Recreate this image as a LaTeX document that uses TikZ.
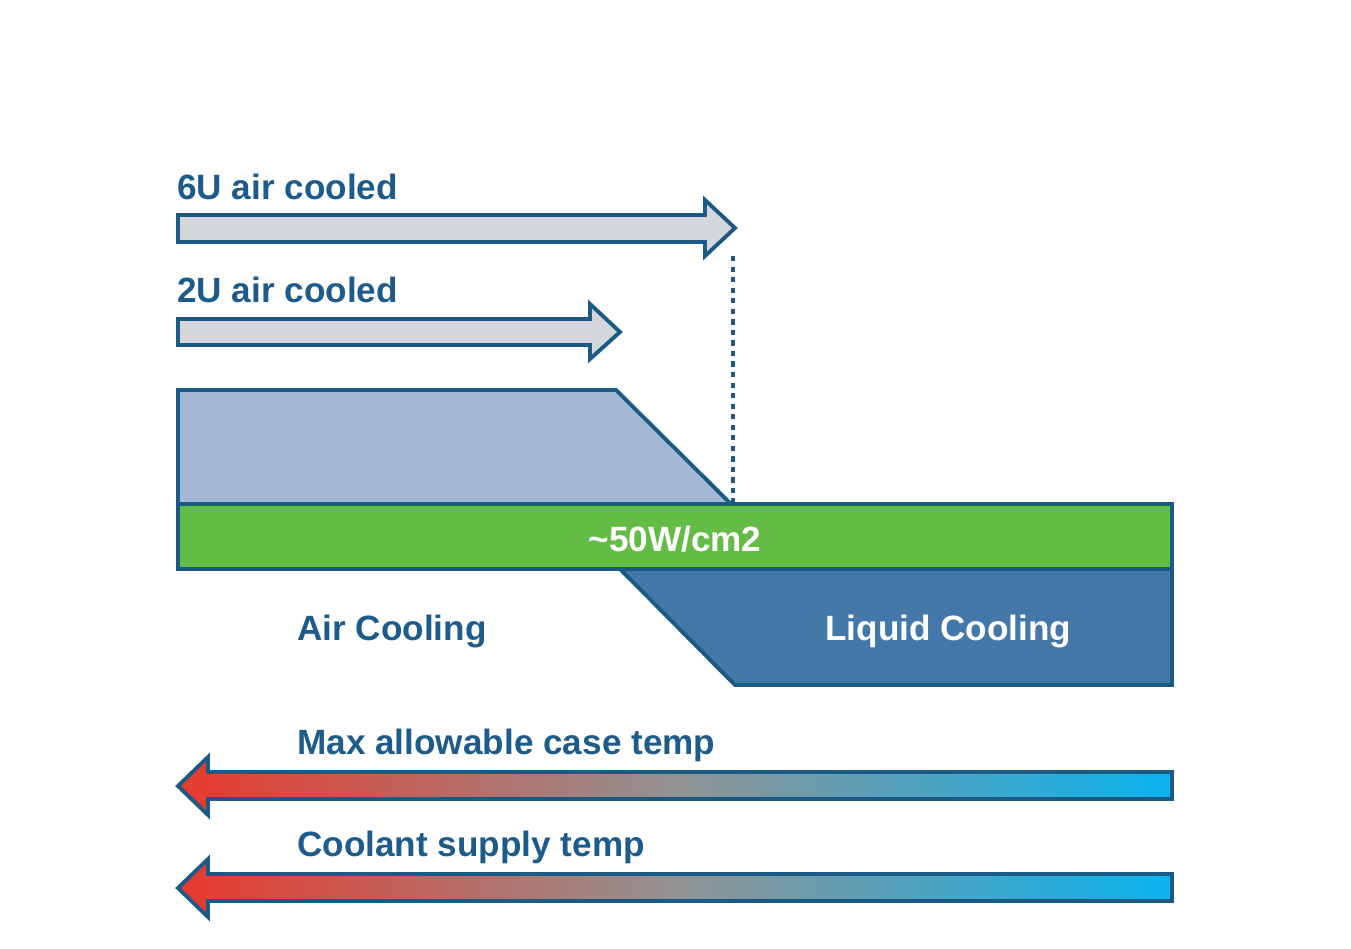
\documentclass[tikz,border=0pt]{standalone}
\usepackage{fontspec}
\setmainfont{Liberation Sans}
\begin{document}
\begin{tikzpicture}[x=0.02cm,y=-0.02cm,
    outl/.style={line width=2.2pt, draw=edgeblue, line join=miter},
    lbl/.style={anchor=west, text=txtblue, font=\fontsize{20}{24}\selectfont\bfseries, inner sep=0pt}]
    \definecolor{edgeblue}{HTML}{1B5A85}
    \definecolor{txtblue}{HTML}{1D5B8A}
    \definecolor{airfill}{HTML}{A3B8D4}
    \definecolor{greenbar}{HTML}{64BC46}
    \definecolor{liqfill}{HTML}{4378A8}
    \definecolor{hot}{HTML}{E8392D}
    \definecolor{cold}{HTML}{0AB4EE}
    \definecolor{arrowgray}{HTML}{D3D6DA}
    \useasboundingbox (0,0) rectangle (1351,949);
    % air cooled arrows
    \draw[outl, fill=arrowgray] (178,215) -- (705,215) -- (705,200) -- (735,228) -- (705,256) -- (705,242) -- (178,242) -- cycle;
    \draw[outl, fill=arrowgray] (178,319) -- (590,319) -- (590,304) -- (620,332) -- (590,359) -- (590,345) -- (178,345) -- cycle;
    \node[lbl] (six) at (177,187) {6U air cooled};
    \node[lbl] (two) at (177,290) {2U air cooled};
    \coordinate (tip6) at (733,256);
    \coordinate (edge) at (733,503);
    \draw[edgeblue, line width=2pt, dashed] (tip6) -- (edge);
    % cooling regions
    \draw[outl, fill=airfill] (178,503) -- (178,390) -- (616,390) -- (730,503);
    \draw[outl, fill=liqfill] (620,569) -- (1172,569) -- (1172,685) -- (735,685) -- cycle;
    \draw[outl, fill=greenbar] (178,504) rectangle (1172,569);
    \node[lbl, anchor=center, text=white] (flux) at (675,539) {\textasciitilde50W/cm2};
    \node[lbl] (air) at (297,631) {Air Cooling};
    \node[lbl, text=white] (liq) at (825,631) {Liquid Cooling};
    % temperature arrows
    \foreach \y/\t in {786/Max allowable case temp, 888/Coolant supply temp}{
        \shade[left color=hot, right color=cold, middle color=gray!85]
            (178,\y) -- (208,\y-29) -- (208,\y-14) -- (1172,\y-14) -- (1172,\y+13) -- (208,\y+13) -- (208,\y+29) -- cycle;
        \draw[outl] (178,\y) -- (208,\y-29) -- (208,\y-14) -- (1172,\y-14) -- (1172,\y+13) -- (208,\y+13) -- (208,\y+29) -- cycle;
        \node[lbl] at (297,\y-41) {\t};
    }
\end{tikzpicture}
\end{document}
